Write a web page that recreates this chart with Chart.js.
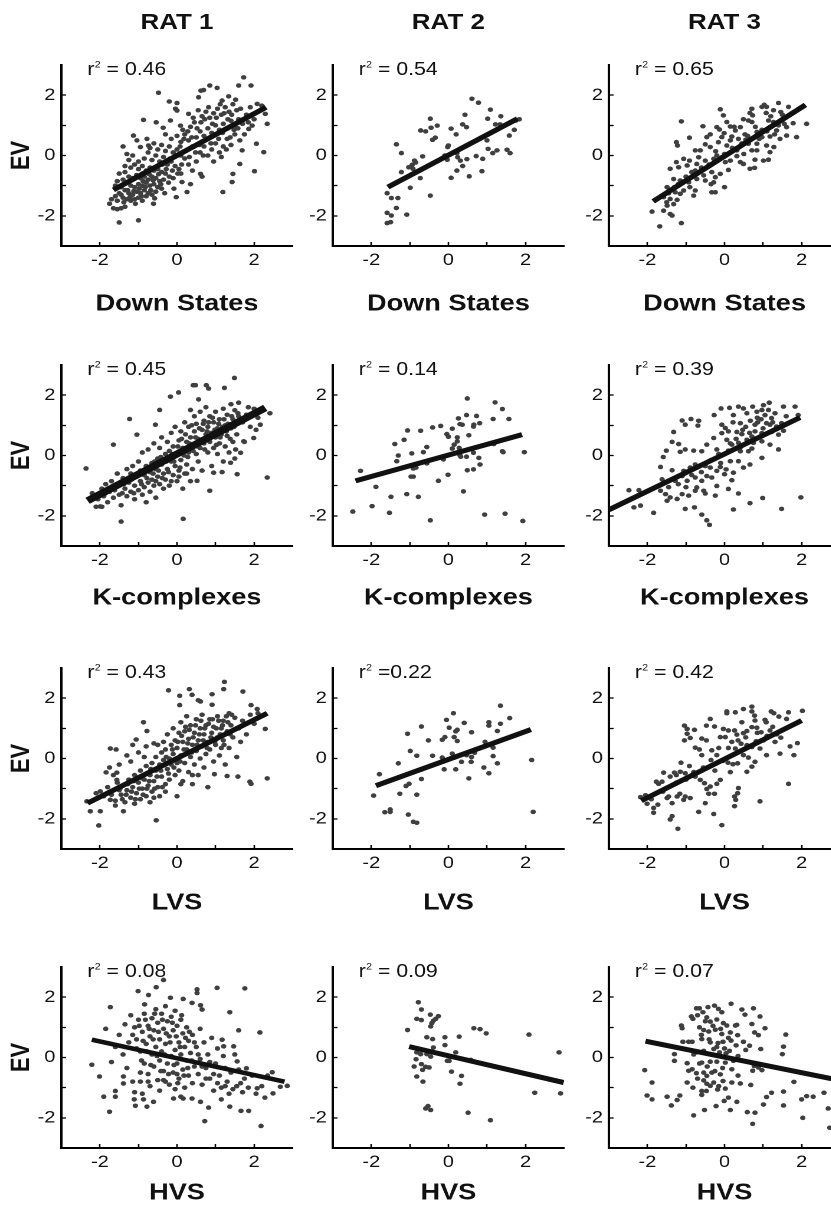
<!DOCTYPE html>
<html><head><meta charset="utf-8">
<script src="https://cdn.jsdelivr.net/npm/chart.js@4.4.0/dist/chart.umd.min.js"></script>
<style>
html,body{margin:0;padding:0;background:#fff;overflow:hidden;width:831px;height:1212px;}
#fig{position:absolute;left:0;top:0;width:705px;height:1212px;transform:scaleX(1.18);transform-origin:0 0;}
.panel{position:absolute;}
.rat{position:absolute;top:8px;width:200px;margin-left:-100px;text-align:center;font:bold 22px "Liberation Sans",Arial,sans-serif;color:#111;line-height:28px;}
</style></head><body><div id="fig"></div>
<script>
const rats = ['RAT 1','RAT 2','RAT 3'];
const measures = ['Down States','K-complexes','LVS','HVS'];
const yTitle = 'EV';
const axisMin = -3, axisMax = 3;
const tickLabels = ['-2','0','2'];
const r2Suffix = [' = 0.46',' = 0.54',' = 0.65',' = 0.45',' = 0.14',' = 0.39',' = 0.43',' =0.22',' = 0.42',' = 0.08',' = 0.09',' = 0.07'];

const rat1_down = [[-1.75,-1.60],[-1.65,-1.75],[-1.55,-1.78],[-1.45,-1.75],[-1.35,-1.70],[-1.50,-2.22],[-1.00,-2.15],
[-1.60,-1.35],[-1.50,-1.25],[-1.40,-1.40],[-1.30,-1.45],[-1.20,-1.50],[-1.10,-1.45],[-1.00,-1.40],[-0.90,-1.50],[-0.80,-1.35],
[-1.45,-1.05],[-1.35,-1.15],[-1.25,-1.25],[-1.15,-1.30],[-1.05,-1.20],[-0.95,-1.25],[-0.85,-1.15],[-0.75,-1.25],[-0.65,-1.30],[-0.55,-1.20],
[-1.40,-0.80],[-1.30,-0.90],[-1.20,-1.00],[-1.10,-1.05],[-1.00,-0.95],[-0.90,-1.00],[-0.80,-0.90],[-0.70,-1.00],[-0.60,-0.95],[-0.50,-1.05],[-0.40,-1.10],
[-1.50,-0.60],[-1.35,-0.55],[-1.25,-0.70],[-1.15,-0.75],[-1.05,-0.65],[-0.95,-0.75],[-0.85,-0.70],[-0.75,-0.80],[-0.65,-0.70],[-0.55,-0.75],[-0.45,-0.85],[-0.35,-0.80],
[-1.20,-0.40],[-1.10,-0.30],[-1.00,-0.45],[-0.90,-0.35],[-0.80,-0.50],[-0.70,-0.40],[-0.60,-0.50],[-0.50,-0.45],[-0.40,-0.55],[-0.30,-0.60],[-0.20,-0.70],[-0.10,-0.75],
[-1.40,0.30],[-1.30,0.05],[-1.15,0.00],[-0.95,0.28],[-0.85,-0.10],[-0.75,0.10],[-0.65,-0.15],[-0.55,0.00],[-0.45,-0.20],[-0.35,-0.05],[-0.25,-0.30],[-0.15,-0.20],[-0.05,-0.35],[0.05,-0.45],
[-1.13,0.66],[-1.04,0.50],[-0.78,0.55],[-0.74,0.33],[-0.60,0.40],[-0.50,0.20],[-0.40,0.35],[-0.30,0.15],[-0.20,0.30],[-0.10,0.10],[0.00,0.20],[0.10,0.00],[0.20,-0.10],
[-0.87,1.18],[-0.54,1.10],[-0.36,0.92],[-0.17,1.16],[0.09,0.99],[-0.48,2.08],[-0.20,1.79],[0.00,1.74],[-0.04,1.55],[0.00,1.49],[0.30,1.38],
[-0.30,0.70],[-0.15,0.55],[0.00,0.65],[0.10,0.45],[0.20,0.70],[0.30,0.50],[0.40,0.30],[0.50,0.60],[0.15,0.85],[0.35,0.95],[0.45,1.10],
[0.60,0.80],[0.70,0.65],[0.80,0.90],[0.90,0.75],[1.00,1.00],[1.10,0.85],[1.20,1.05],[1.30,0.90],[1.40,1.15],[1.50,1.00],[1.60,1.20],[1.70,1.05],
[0.55,1.50],[0.65,1.30],[0.75,1.45],[0.85,1.25],[0.95,1.40],[1.05,1.55],[1.15,1.35],[1.25,1.60],[1.35,1.45],[1.45,1.70],[1.55,1.50],
[0.56,1.93],[0.62,2.15],[0.69,2.17],[0.85,2.32],[1.04,2.24],[1.34,1.96],[1.17,1.82],[1.60,2.32],[1.73,2.59],[1.92,2.32],[2.08,1.71],[2.29,1.38],[2.34,1.05],
[0.30,-0.30],[0.40,-0.50],[0.50,-0.20],[0.60,0.10],[0.70,0.30],[0.80,0.00],[0.90,0.20],[1.00,0.40],[1.10,0.10],[1.20,0.30],[1.30,0.55],[1.40,0.35],
[0.61,-0.61],[0.65,-0.70],[0.13,-0.88],[0.26,-1.21],[-0.02,-1.38],[-0.61,-1.60],[0.35,-0.95],[0.10,-0.60],
[1.86,0.88],[1.95,0.99],[1.63,0.50],[1.69,0.17],[2.06,0.39],[2.25,0.11],[1.63,-0.28],[1.45,-0.61],[2.01,-0.52],[1.43,-0.88],[1.19,-1.21],
[1.80,1.35],[1.90,1.60],[2.00,1.20],[2.20,1.65],[1.75,0.70],[1.50,0.70],[1.15,-0.05],[0.95,-0.20],
[-1.70,-1.45],[-1.55,-1.50],[-1.45,-1.30],[-1.38,-1.55],[-1.28,-1.15],[-1.22,-1.38],[-1.12,-1.18],[-1.08,-1.60],[-0.98,-1.10],[-0.92,-1.35],[-0.88,-0.85],[-0.82,-1.05],[-0.72,-0.62],[-0.68,-1.15],[-0.62,-0.82],[-0.58,-1.42],[-0.48,-0.62],[-0.42,-0.95],[-0.38,-0.30],[-0.32,-1.25],[-0.28,-0.45],[-0.22,-0.90],[-0.18,-0.10],[-0.12,-0.50],[-0.08,-1.10],[0.02,-0.60],[0.08,0.30],[0.12,-0.30],[0.18,0.55],[0.22,0.15],[0.28,0.80],[0.32,-0.05],[0.38,0.60],[0.42,1.25],[0.48,0.10],[0.52,0.90],[0.58,0.35],[0.62,1.10],[0.68,0.00],[0.72,1.20],[0.78,0.55],[0.82,1.60],[0.88,0.40],[0.92,1.05],[0.98,0.70],[1.02,1.25],[1.08,0.55],[1.12,1.70],[1.18,0.75],[1.22,1.40],[1.28,0.20],[1.32,1.20],[1.38,0.60],[1.42,1.35],[1.48,0.85],[1.52,1.85],[1.58,0.90],[1.65,1.55],[1.85,1.10],[-1.00,-0.20],[-1.25,-0.15],[-0.70,0.25],[-0.90,-0.60],[-1.35,-0.35],[-1.55,-0.85],[-1.60,-1.00]];

const rat2_down = [[0.61,1.88],[0.78,1.75],[1.09,1.52],[0.43,1.35],[-0.47,1.22],[1.36,1.30],[1.02,1.22],[1.84,1.20],[1.75,1.16],
[-0.29,0.99],[-0.45,0.92],[0.37,1.03],[0.47,0.94],[1.22,1.03],[1.34,1.03],[1.71,0.85],
[-0.72,0.83],[-0.59,0.80],[0.07,0.89],[-0.34,0.59],[-0.41,0.52],[0.20,0.70],[1.00,0.50],[1.58,0.66],
[-1.35,0.37],[-1.22,0.08],[-0.02,0.28],[0.00,0.33],[1.03,0.22],[1.26,0.17],[1.15,0.08],[1.52,0.19],[1.60,0.08],
[-0.67,-0.03],[0.22,0.08],[0.24,-0.06],[-0.09,0.00],[-0.03,-0.14],[0.72,-0.02],[0.89,-0.11],
[-0.88,-0.17],[-0.85,-0.23],[-0.94,-0.31],[0.31,-0.17],[0.48,-0.12],[0.37,-0.35],[0.22,-0.50],[0.87,-0.52],
[-1.22,-0.55],[-0.73,-0.75],[0.07,-0.74],[0.54,-0.69],[-0.99,-1.07],[-0.47,-1.33],
[-1.59,-1.25],[-1.48,-1.41],[-1.31,-1.41],[-1.35,-1.74],[-1.59,-1.90],[-1.48,-1.99],[-1.08,-1.96],[-1.59,-2.24],[-1.50,-2.21],[-0.92,-0.44],[-1.03,-0.39]];

const rat3_down = [[1.40,1.74],[1.03,1.68],[0.97,1.61],[1.09,1.61],[1.66,1.61],[0.71,1.55],[-0.11,1.53],[1.27,1.50],[1.46,1.44],[1.08,1.41],[0.66,1.41],
[-0.03,1.33],[0.49,1.20],[0.73,1.33],[0.71,1.11],[-1.12,1.13],[1.78,1.07],[2.13,1.05],
[0.06,1.11],[0.15,0.96],[-0.20,0.94],[-0.13,0.86],[-0.56,0.97],[0.28,0.83],[0.41,0.94],
[-0.37,0.70],[-0.01,0.74],[0.19,0.63],[0.36,0.55],[0.53,0.70],[0.84,0.78],[0.97,0.61],[1.18,0.63],[1.44,0.55],[1.61,0.66],[1.87,0.61],
[-0.91,0.59],[-1.25,0.44],[-1.22,0.33],[-0.50,0.37],[-0.37,0.28],[-0.16,0.44],[0.06,0.33],[0.32,0.17],[0.62,0.39],[0.84,0.17],[1.09,0.33],
[-1.06,-0.11],[-0.91,-0.17],[-0.67,-0.06],[-0.50,-0.17],[-0.28,-0.11],[-0.07,-0.06],[0.15,-0.17],[0.41,-0.22],[0.79,-0.14],[1.01,-0.17],[1.14,-0.14],
[-1.25,-0.22],[-1.41,-0.44],[-1.19,-0.39],[-0.97,-0.33],[-0.76,-0.50],[-0.54,-0.66],[-0.33,-0.55],[-0.11,-0.61],[0.10,-0.48],[0.66,-0.44],[0.78,-0.41],
[-1.32,-0.78],[-1.15,-0.83],[-0.93,-0.89],[-0.72,-0.78],[-0.50,-0.83],[-0.28,-0.89],[-0.24,-0.72],[0.00,-1.05],
[-1.49,-1.05],[-1.41,-1.16],[-1.28,-1.22],[-1.15,-1.27],[-1.06,-1.16],[-0.76,-1.16],[-0.80,-1.33],[-0.33,-1.22],[-0.24,-1.22],
[-1.58,-1.38],[-1.41,-1.44],[-1.32,-1.61],[-1.49,-1.66],[-1.58,-1.83],[-1.41,-1.94],[-1.36,-1.99],[-1.88,-1.86],[-1.68,-2.35],[-1.12,-2.24],[-1.23,-1.47],
[1.14,1.16],[1.27,1.11],[1.40,1.00],[1.53,1.22],[1.61,0.94],[1.35,0.83],[1.18,0.94],[0.97,0.85],[0.62,1.16],[0.55,0.52],[0.84,0.39],
[1.18,0.11],[1.28,0.28],[0.15,0.50],[-0.07,0.61],[-0.23,0.14],[-0.63,0.17],[-0.76,0.17],[-0.46,0.61],[-0.72,-0.28],[0.02,-0.22],[0.49,-0.28],[0.32,-0.02],[0.71,0.17],
[-1.45,-1.25],[-1.30,-1.05],[-1.20,-0.95],[-1.00,-0.70],[-0.85,-0.55],[-0.60,-0.40],[-0.40,-0.30],[-0.20,0.00],[0.00,0.05],[0.20,0.25],[0.45,0.40],[0.60,0.65],[0.80,0.95],[0.90,0.55],[1.10,0.80],[1.20,1.30],[1.30,0.70],[1.50,1.35],[1.55,1.05],[0.25,0.95],[-0.35,-0.95],[-0.90,-1.05],[-1.50,-1.55],[0.50,0.05]];

const rat1_kc = [[-2.36,-0.43],[-1.65,0.36],[-1.23,1.21],[-1.04,0.69],[-0.56,1.02],[-0.45,1.51],[-0.17,1.95],[0.04,2.09],[0.42,2.33],[0.48,2.33],[0.76,2.33],[0.82,2.22],[1.23,2.24],[1.49,2.57],[0.56,1.86],[0.35,1.51],
[-1.99,-1.69],[-1.45,-2.19],[0.16,-2.10],[2.34,-0.73],[2.41,1.40],[2.16,1.02],[1.99,0.58],
[1.73,0.47],[1.65,0.09],[1.39,-0.24],[1.56,-0.62],[1.17,-0.55],[0.95,-0.57],[0.85,-1.17],[0.52,-0.84],
[-2.20,-1.25],[-2.10,-1.70],[-2.05,-1.45],[-1.95,-1.10],[-1.90,-1.35],[-1.85,-0.95],[-1.80,-1.55],[-1.75,-1.20],[-1.70,-0.85],[-1.65,-1.40],[-1.60,-1.05],[-1.55,-0.60],[-1.50,-1.30],[-1.50,-0.95],[-1.45,-1.65],[-1.40,-0.75],
[-1.35,-1.10],[-1.30,-0.45],[-1.30,-1.35],[-1.25,-0.90],[-1.20,-0.60],[-1.20,-1.20],[-1.15,-0.35],[-1.10,-1.00],[-1.10,-1.45],[-1.05,-0.70],[-1.00,-0.20],[-1.00,-1.15],[-0.95,-0.85],[-0.95,-0.50],[-0.90,-1.30],[-0.90,0.10],[-0.85,-0.65],[-0.85,-1.05],[-0.80,-0.35],[-0.80,-1.55],
[-0.75,-0.90],[-0.75,0.20],[-0.70,-0.55],[-0.70,-1.20],[-0.65,-0.25],[-0.65,-0.80],[-0.60,0.40],[-0.60,-1.00],[-0.55,-0.45],[-0.55,-1.40],[-0.50,-0.10],[-0.50,-0.70],[-0.45,0.25],[-0.45,-0.95],[-0.40,-0.30],[-0.40,0.60],[-0.35,-0.60],[-0.35,-1.10],[-0.30,0.05],[-0.30,-0.80],[-0.25,0.45],[-0.25,-0.45],[-0.20,-1.00],[-0.20,0.15],
[-0.15,-0.20],[-0.15,0.75],[-0.10,-0.65],[-0.10,0.30],[-0.05,-0.35],[-0.05,0.95],[0.00,0.05],[0.00,-0.85],[0.05,0.50],[0.05,-0.50],[0.10,-0.15],[0.10,0.80],[0.15,0.25],[0.15,-1.10],[0.20,-0.60],[0.20,1.10],[0.25,0.45],[0.25,-0.30],[0.30,0.10],[0.30,0.95],[0.35,-0.85],[0.35,0.60],[0.40,0.30],[0.40,-0.45],
[0.45,1.30],[0.45,0.80],[0.50,0.05],[0.50,1.05],[0.55,0.55],[0.55,-0.20],[0.60,1.45],[0.60,0.25],[0.65,0.85],[0.65,-0.50],[0.70,1.15],[0.70,0.40],[0.75,0.70],[0.75,1.60],[0.80,0.10],[0.80,0.95],[0.85,1.30],[0.85,0.45],[0.90,0.75],[0.90,-0.35],[0.95,1.10],[0.95,0.25],[1.00,1.45],[1.00,0.60],
[1.05,0.90],[1.05,0.05],[1.10,1.20],[1.10,0.40],[1.15,0.70],[1.20,1.55],[1.20,-0.20],[1.25,1.00],[1.25,0.30],[1.30,1.35],[1.30,0.65],[1.35,0.10],[1.40,1.70],[1.40,0.90],[1.45,1.20],[1.45,0.45],[1.50,1.50],[1.50,-0.10],[1.55,1.05],[1.55,0.70],[1.60,1.75],[1.60,1.30],
[1.70,1.10],[1.75,0.45],[1.80,1.35],[1.90,0.95],[2.00,1.55],[2.10,1.25],[2.15,1.50],[1.85,1.60],[2.05,0.85],
[-1.85,-1.25],[-1.62,-1.15],[-1.42,-1.25],[-1.38,-0.95],[-1.18,-0.80],[-1.12,-1.25],[-0.98,-0.60],[-0.92,-0.95],[-0.78,-0.75],[-0.72,-0.40],[-0.62,-0.60],[-0.58,-0.20],[-0.48,-0.50],[-0.42,-0.05],[-0.38,-0.75],[-0.28,-0.20],[-0.22,-0.55],[-0.12,0.05],[-0.08,-0.20],[0.02,0.30],[0.08,-0.40],[0.12,0.55],[0.18,0.00],[0.22,0.70],[0.28,-0.05],[0.32,0.40],[0.38,1.00],[0.42,0.15],[0.48,0.60],[0.52,0.30],[0.58,0.90],[0.62,0.50],[0.68,1.05],[0.72,0.20],[0.78,0.80],[0.82,1.10],[0.88,0.60],[0.92,1.25],[0.98,0.85],[1.02,0.35],[1.08,1.05],[1.12,0.60],[1.18,0.95],[1.22,1.20],[1.28,0.80],[1.32,1.05],[1.38,0.55],[1.42,1.30],[1.48,0.95],[1.52,0.20],[1.58,1.40],[-1.95,-1.70],[-0.55,-0.85],[-0.15,-0.85],[0.05,-0.70],[0.25,-0.60]];

const rat2_kc = [[0.49,1.89],[1.21,1.76],[1.40,1.54],[1.57,1.21],[1.16,1.21],[0.47,1.34],[0.26,1.23],[0.73,1.31],[0.30,1.04],[0.36,1.02],[0.66,1.02],[0.81,1.07],[0.65,0.96],
[-0.20,0.98],[-0.41,0.93],[-0.72,0.82],[-1.06,0.83],[-0.04,0.71],[0.00,0.62],[0.23,0.60],[0.23,0.47],[0.10,0.89],[0.53,0.67],[-1.15,0.52],[-1.39,0.38],[-0.56,0.28],[1.18,0.38],[0.28,0.25],
[-1.30,0.00],[-0.95,0.07],[-0.65,0.11],[0.10,0.23],[0.30,0.01],[0.32,-0.04],[0.47,-0.04],[0.65,0.09],[1.42,0.11],[1.97,0.11],
[-1.34,-0.19],[-0.56,-0.26],[-0.13,-0.13],[-0.91,-0.43],[-0.84,-0.40],[0.49,-0.49],[0.65,-0.46],[0.79,-0.08],[0.82,-0.30],
[-2.28,-0.51],[-0.97,-0.70],[-0.91,-0.70],[-0.01,-0.64],[-0.26,-0.84],[0.39,-1.19],[-1.88,-1.04],[-1.08,-1.28],[-1.49,-1.37],[-0.78,-1.37],[-1.98,-1.68],[-2.48,-1.86],[-1.53,-1.90],[-0.47,-2.15],[0.94,-1.96],[1.47,-1.93],[1.93,-2.17],[1.40,0.14],[0.15,0.36]];

const rat3_kc = [[1.16,1.75],[1.01,1.67],[0.73,1.62],[0.97,1.51],[1.14,1.51],[1.53,1.62],[1.83,1.62],[0.36,1.62],[0.13,1.58],[-0.09,1.56],[0.49,1.56],
[0.58,1.40],[0.84,1.45],[1.31,1.40],[1.91,1.34],[-0.27,1.34],[0.23,1.34],[1.05,1.34],
[-1.10,1.16],[-0.87,1.21],[-0.67,1.15],[-0.69,0.99],[-1.02,1.02],[-0.07,1.02],[0.02,0.91],[0.22,1.10],[0.41,1.07],[0.67,1.15],[0.86,1.10],[1.09,1.07],[1.18,1.02],[1.35,0.96],[1.48,1.07],
[-1.32,0.78],[-0.07,0.74],[0.10,0.80],[0.32,0.78],[0.47,0.85],[0.79,0.80],[0.97,0.74],[1.22,0.78],[1.40,0.69],[1.53,0.82],
[-1.36,0.45],[-1.19,0.38],[-0.46,0.36],[-0.28,0.58],[0.06,0.52],[0.19,0.36],[0.36,0.42],[0.58,0.52],[0.75,0.42],[0.97,0.47],[1.18,0.36],[1.40,0.20],
[-1.59,-0.05],[-1.15,0.12],[-0.80,0.16],[-0.59,0.14],[-0.20,0.20],[-0.03,0.03],[0.10,0.16],[0.41,0.14],[0.62,0.14],[0.71,0.23],
[-1.66,-0.38],[-1.36,-0.49],[-1.06,-0.51],[-0.89,-0.40],[-0.76,-0.30],[-0.50,-0.35],[-0.37,-0.40],[-0.11,-0.38],[0.15,-0.19],[0.36,-0.19],[0.49,-0.40],[0.66,-0.30],[0.97,-0.08],[0.04,-0.46],[0.23,-0.57],
[-1.62,-0.79],[-1.28,-0.84],[-1.10,-0.68],[-0.97,-0.84],[-0.76,-0.73],[-0.59,-0.84],[-0.46,-0.68],[-0.33,-0.73],[-0.20,-0.51],[0.00,-0.62],[0.19,-0.82],
[-1.66,-1.17],[-1.53,-1.28],[-1.41,-1.39],[-1.49,-1.50],[-1.23,-1.44],[-1.10,-1.28],[-0.93,-1.33],[-0.76,-1.17],[-0.54,-1.17],[-0.50,-1.26],[-0.24,-1.33],[0.10,-1.11],[0.36,-1.26],
[-2.48,-1.15],[-2.22,-1.15],[-2.18,-1.66],[-2.35,-1.72],[-1.84,-1.90],[-1.02,-1.77],[-0.78,-1.72],[-0.59,-1.96],[-0.46,-2.15],[-0.39,-2.30],[0.23,-1.79],[0.66,-1.58],[0.99,-1.41],[1.48,-1.77],[1.98,-1.39],
[-1.51,0.16],[-1.02,0.20],[-0.72,-1.06],[-0.20,-1.01],[0.79,1.02],[1.22,1.24],[0.45,0.71],[0.71,0.63],
[0.85,1.25],[1.00,0.90],[0.55,0.95],[0.30,0.55],[0.15,0.40],[-0.15,0.05],[-0.35,-0.15],[-0.60,-0.55],[-0.85,-0.65],[-1.20,-0.95],[-1.45,-1.05],[1.25,1.10],[0.95,1.20],[0.40,0.25],[-0.10,-0.25],[-1.00,-1.05],[1.60,1.30],[0.65,0.75]];

const rat1_lvs = [[1.23,2.54],[1.21,2.30],[1.71,2.22],[-0.22,2.26],[0.32,2.30],[0.07,2.08],[0.39,2.11],[0.55,1.93],[0.61,1.89],[0.91,1.78],[0.91,2.13],[0.07,1.77],[1.92,1.77],[2.08,1.64],[2.29,0.98],[2.34,-0.66],[1.89,-0.77],[1.92,-0.84],[1.58,-0.60],[1.30,-0.58],[0.97,-0.52],
[-0.87,1.20],[-0.78,0.91],[-1.06,0.63],[-1.73,0.33],[-1.58,0.30],[-1.84,-0.46],[-1.56,-0.47],[-1.56,-0.71],[-1.73,-1.37],[-2.25,-1.75],[-1.99,-1.75],[-2.03,-2.22],[-0.54,-2.05],[-2.34,-1.42],[-1.99,-1.09],[-1.39,-1.75],[-1.60,-1.56],
[-1.45,-1.20],[-1.40,-0.90],[-1.35,-1.45],[-1.30,-1.05],[-1.25,-0.70],[-1.20,-1.30],[-1.15,-0.95],[-1.10,-1.50],[-1.10,-0.55],[-1.05,-1.15],[-1.00,-0.80],[-0.95,-1.35],[-0.95,-0.40],[-0.90,-1.00],[-0.85,-0.70],[-0.80,-1.25],[-0.80,-0.25],[-0.75,-0.90],[-0.70,-0.55],[-0.70,-1.45],[-0.65,-0.15],[-0.65,-1.10],[-0.60,-0.75],[-0.55,0.05],[-0.55,-0.40],[-0.50,-0.95],[-0.50,0.45],[-0.45,-0.20],[-0.45,-1.25],[-0.40,0.20],[-0.40,-0.60],[-0.35,0.55],[-0.35,-0.05],[-0.30,-0.85],[-0.30,0.30],[-0.25,-0.35],[-0.25,0.80],[-0.20,0.00],[-0.20,-0.70],[-0.15,0.45],[-0.15,-0.20],[-0.10,1.00],[-0.10,0.15],[-0.05,-0.55],[-0.05,0.60],[0.00,-0.15],[0.00,0.35],[0.00,-1.25],[0.05,0.85],[0.05,-0.40],[0.10,0.10],[0.10,1.20],[0.15,0.55],[0.15,-0.75],[0.20,-0.15],[0.20,0.90],[0.25,0.30],[0.25,1.40],[0.30,-0.45],[0.30,0.65],[0.35,0.05],[0.35,1.10],[0.40,0.45],[0.40,-0.85],[0.45,0.85],[0.45,-0.20],[0.50,1.30],[0.50,0.25],[0.55,0.60],[0.55,-0.55],[0.60,1.00],[0.60,0.00],[0.65,0.40],[0.65,1.45],[0.70,-0.30],[0.70,0.80],[0.75,1.10],[0.75,0.15],[0.80,0.55],[0.80,-0.95],[0.85,1.30],[0.85,0.30],[0.90,0.85],[0.95,-0.10],[0.95,1.05],[1.00,0.45],[1.05,1.40],[1.05,0.70],[1.10,0.10],[1.15,1.00],[1.15,0.35],[1.20,1.25],[1.20,0.60],[1.25,-0.20],[1.30,0.90],[1.35,1.50],[1.35,0.35],[1.40,1.10],[1.45,0.70],[1.50,1.35],[1.55,0.05],[1.60,1.00],[1.65,0.55],[1.70,1.25],[1.80,0.80],[1.90,1.45],[2.00,1.15],[2.10,1.50],
[-1.80,-0.95],[-1.70,-1.20],[-1.65,-0.55],[-1.60,-1.40],[-1.55,-0.80],[-1.50,-1.05],[-1.90,-1.25],[-2.10,-1.15],[-1.75,-0.30],[-1.50,-0.20],[-1.30,0.10],[-1.20,-0.10],[-1.00,0.20],[-0.80,0.40],[-0.60,0.50],[-0.85,0.05],[-1.15,0.45],
[-1.48,-1.00],[-1.42,-1.35],[-1.32,-1.20],[-1.28,-0.85],[-1.18,-1.10],[-1.12,-0.75],[-1.08,-1.35],[-0.98,-1.00],[-0.92,-0.65],[-0.88,-1.20],[-0.78,-1.00],[-0.72,-0.75],[-0.68,-0.35],[-0.58,-1.00],[-0.52,-0.60],[-0.42,-0.40],[-0.38,-0.95],[-0.28,0.05],[-0.22,-0.50],[-0.12,0.30],[-0.08,-0.30],[0.02,0.55],[0.08,-0.10],[0.12,0.75],[0.18,0.30],[0.22,1.05],[0.28,0.50],[0.32,0.95],[0.38,0.20],[0.42,0.70],[0.48,1.10],[0.52,0.45],[0.58,0.80],[0.62,1.25],[0.68,0.60],[0.72,1.00],[0.78,0.35],[0.82,1.15],[0.88,0.70],[0.92,1.30],[0.98,0.55],[1.02,1.00],[1.08,1.25],[1.12,0.80],[1.18,1.10],[1.22,0.45],[1.28,1.40],[1.32,1.20],[1.38,0.80],[1.42,1.45],[-0.60,-1.30],[-0.30,-1.10],[0.10,-0.85],[0.40,-0.55]];

const rat2_lvs = [[1.35,1.75],[0.13,1.50],[1.59,1.34],[-0.05,1.28],[1.35,1.15],[0.41,1.18],[1.05,1.20],[1.05,1.09],[-0.70,1.06],[0.02,1.02],[0.23,0.95],[0.19,0.90],[0.60,0.87],[1.27,0.91],[-1.06,0.82],[0.15,0.71],[-0.09,0.71],[-0.16,0.62],[-0.52,0.60],[0.23,0.58],[0.95,0.55],[1.16,0.36],
[-0.99,0.25],[-0.41,0.09],[-0.82,0.09],[-0.16,0.03],[0.10,0.16],[0.15,0.03],[0.30,0.11],[0.47,0.11],[0.60,0.05],[0.68,0.19],[1.16,0.08],[-1.30,-0.16],[0.34,-0.11],[0.59,-0.11],[1.27,-0.16],[2.16,-0.05],
[-1.79,-0.52],[-0.11,-0.36],[0.19,-0.36],[0.92,-0.30],[1.05,-0.49],[-0.70,-0.68],[0.53,-0.66],
[-1.10,-0.91],[-1.02,-0.84],[-1.26,-1.17],[-0.82,-1.20],[-1.94,-1.23],
[-1.51,-1.69],[-1.65,-1.78],[-1.51,-1.77],[-1.04,-1.86],[-0.91,-2.10],[-0.82,-2.13],[2.20,-1.77]];

const rat3_lvs = [[0.71,1.72],[0.49,1.64],[0.71,1.56],[0.28,1.53],[0.06,1.56],[0.06,1.50],[1.21,1.56],[1.28,1.50],[1.41,1.39],[1.61,1.31],[1.66,1.53],[2.02,1.58],[0.78,1.42],[0.79,1.26],[1.05,1.28],[1.08,1.20],[-0.37,1.31],[-0.47,1.09],[-0.26,1.06],[-1.04,1.09],[-0.97,0.98],[-0.78,0.95],
[-0.03,0.98],[0.10,0.93],[0.26,0.93],[0.32,0.79],[0.49,0.84],[0.58,0.91],[0.71,1.04],[0.84,1.02],[0.95,0.87],[1.18,0.93],[1.35,0.80],[1.46,0.69],[1.31,0.55],[1.01,0.60],[0.82,0.57],
[-0.97,0.82],[-1.04,0.60],[-0.89,0.68],[-0.59,0.66],[-0.47,0.60],[-0.11,0.71],[0.02,0.71],[0.19,0.55],[0.28,0.33],[0.43,0.49],[0.58,0.44],[0.71,0.38],[0.92,0.33],[1.70,0.40],[1.89,0.51],[1.80,0.11],[1.44,0.16],
[-0.76,0.36],[-0.59,0.11],[-0.33,0.27],[-0.20,0.11],[-0.04,-0.08],[0.09,-0.14],[0.22,-0.19],[0.34,-0.16],[0.49,0.11],[0.62,0.03],[0.71,-0.27],[0.58,-0.44],[0.79,-0.11],[1.09,0.11],[1.66,-0.84],
[-1.58,-0.47],[-1.71,-0.84],[-1.62,-0.77],[-1.41,-0.60],[-1.25,-0.55],[-1.15,-0.44],[-1.02,-0.49],[-0.91,-0.25],[-0.76,-0.60],[-0.63,-0.71],[-0.52,-0.82],[-0.37,-0.93],[-0.20,-0.84],[-0.11,-0.71],[-0.46,-1.01],[-0.41,-1.17],[-0.26,-1.17],[0.36,-0.98],[0.34,-1.15],[0.26,-1.26],[0.29,-1.37],[0.26,-1.58],[0.92,-1.42],
[-2.18,-1.28],[-2.05,-1.22],[-2.01,-1.50],[-1.84,-1.64],[-1.84,-1.80],[-1.73,-1.53],[-1.49,-1.31],[-1.45,-1.26],[-1.36,-1.48],[-1.36,-1.91],[-1.41,-2.02],[-1.21,-2.33],[-1.23,-1.26],[-1.16,-1.17],[-1.06,-1.37],[-1.02,-1.26],[-0.89,-1.31],[-0.67,-1.77],[-0.28,-1.84],[-0.07,-2.21],[-0.50,-1.48],[-1.77,-0.77],
[-1.13,-0.14],[-1.30,-0.47],
[-1.25,-0.80],[-1.00,-0.70],[-0.80,-0.45],[-0.55,-0.30],[-0.35,-0.05],[-0.15,0.35],[0.10,0.35],[0.35,0.60],[0.55,0.70],[0.85,0.85],[1.10,0.75],[1.25,1.05],[0.45,1.20],[-0.65,0.30],[-1.60,-1.10],[-1.90,-1.35],[0.15,-0.45],[-0.25,-0.40]];

const rat1_hvs = [[-0.35,2.57],[-0.54,2.33],[0.52,2.26],[0.52,2.14],[1.04,2.31],[1.76,2.29],[-1.01,2.20],[-0.74,2.07],[-0.17,1.98],[0.16,1.94],[0.39,1.81],[-0.84,1.76],[-1.73,1.67],[0.61,1.73],[0.65,1.59],[1.37,1.50],
[-2.21,-0.24],[-2.01,-0.63],[-1.90,-1.30],[-1.75,-1.80],[-1.60,-1.11],[-1.60,-1.30],[-1.39,-0.63],[-1.39,-0.86],[-1.11,-1.39],[-1.08,-1.60],[-0.87,-1.39],[-0.78,-1.63],[-0.61,-1.47],[-0.09,-1.36],[0.16,-1.36],[0.39,-1.36],[0.61,-1.47],[0.72,-2.11],[0.82,-1.66],[1.15,-1.39],[1.37,-1.63],[1.66,-1.77],[1.86,-1.77],[2.18,-2.27],[2.28,-1.33],[2.08,-1.02],[2.47,-0.49],[2.49,-1.19],[2.68,-0.97],[2.86,-0.94],[2.15,0.83],[1.60,0.90],[1.17,0.59],[1.21,0.37],[1.47,0.37],[1.56,-0.13],[1.80,-0.36],
[-1.20,1.40],[-1.10,1.00],[-1.05,0.60],[-1.00,1.25],[-0.95,0.20],[-0.90,0.85],[-0.85,-0.20],[-0.85,1.45],[-0.80,0.45],[-0.75,1.05],[-0.75,-0.55],[-0.70,0.70],[-0.65,0.10],[-0.65,1.30],[-0.60,-0.30],[-0.60,0.90],[-0.55,1.60],[-0.55,0.35],[-0.50,-0.75],[-0.50,1.15],[-0.45,0.60],[-0.45,-0.10],[-0.40,1.45],[-0.40,0.20],[-0.35,-0.45],[-0.35,0.95],[-0.30,1.70],[-0.30,0.45],[-0.25,-0.20],[-0.25,1.20],[-0.20,-0.90],[-0.20,0.70],[-0.15,0.05],[-0.15,1.35],[-0.10,-0.50],[-0.10,0.90],[-0.05,0.25],[-0.05,1.55],[0.00,-0.20],[0.00,1.05],[0.05,-0.70],[0.05,0.50],[0.10,1.25],[0.10,0.10],[0.15,-0.40],[0.15,0.80],[0.20,-1.00],[0.20,0.35],[0.25,-0.10],[0.25,1.00],[0.30,-0.60],[0.30,0.55],[0.35,0.15],[0.40,-0.85],[0.40,0.75],[0.45,-0.30],[0.50,0.35],[0.55,-0.55],[0.60,0.95],[0.60,-0.05],[0.65,-0.90],[0.70,0.50],[0.75,-0.35],[0.80,0.10],[0.85,-0.70],[0.90,0.65],[0.95,-1.10],[1.00,-0.20],[1.05,0.30],[1.10,-0.60],[1.15,-1.00],[1.20,0.05],[1.25,-0.35],[1.30,-0.80],[1.35,-1.20],[1.40,-0.50],[1.50,0.10],[1.55,-0.95],[1.60,-0.40],[1.70,-1.15],[1.75,-0.70],[1.85,-1.00],[1.95,-0.60],[2.05,-1.20],[2.20,-0.95],[2.35,-0.60],
[-1.50,0.75],[-1.40,0.10],[-1.35,1.10],[-1.30,-0.35],[-1.25,0.50],[-1.60,0.35],[-1.70,-0.15],[-1.85,0.95],[-1.15,-0.80],[-1.10,-1.15],[-0.95,-0.50],[-0.90,-1.20],[-0.70,-0.95],[-0.45,-1.10],[-0.30,-0.80],[-0.05,-1.05],[0.10,-1.30],
[-1.15,0.75],[-1.05,0.30],[-0.98,1.05],[-0.92,-0.10],[-0.88,0.55],[-0.82,1.25],[-0.78,0.20],[-0.72,0.95],[-0.68,-0.25],[-0.62,0.60],[-0.58,1.45],[-0.52,0.05],[-0.48,0.85],[-0.42,-0.45],[-0.38,1.25],[-0.32,0.10],[-0.28,0.80],[-0.22,-0.55],[-0.18,0.50],[-0.12,1.15],[-0.08,-0.25],[-0.02,0.70],[0.02,-0.85],[0.08,0.35],[0.12,1.40],[0.18,-0.60],[0.22,0.65],[0.28,-0.35],[0.32,0.85],[0.38,-0.10],[0.45,0.50],[0.55,0.10],[0.65,-0.30],[0.75,-0.70],[0.85,-0.15],[0.95,-0.55],[1.05,-0.85],[1.25,-0.95],[1.45,-1.05],[1.65,-0.85],[-0.95,-0.80],[-0.75,-0.80],[-0.35,-0.75],[0.00,-0.55]];

const rat2_hvs = [[-0.78,1.83],[-0.70,1.59],[-0.82,1.28],[-0.70,1.24],[-0.47,1.42],[-0.26,1.37],[-0.33,1.28],[-0.39,1.22],[-0.43,1.14],[-0.46,1.03],[-1.06,0.91],[0.66,0.97],[0.82,0.94],[0.98,0.80],[2.09,0.76],[-0.56,0.67],[-0.41,0.61],[-0.09,0.67],[0.28,0.69],[-0.09,0.41],[-0.39,0.33],[-0.82,0.17],[-0.72,0.11],[-0.56,0.11],[0.19,0.17],[2.87,0.17],[-0.46,0.03],[-0.03,-0.11],[0.02,-0.11],[0.58,-0.08],[-0.84,-0.06],[-0.89,-0.30],[-0.70,-0.22],[-0.59,-0.31],[-0.67,-0.41],[0.08,-0.47],[0.34,-0.61],[-0.82,-0.63],[-0.66,-0.80],[0.30,-0.87],[2.24,-1.17],[2.91,-1.19],[-0.59,-1.69],[-0.53,-1.61],[-0.46,-1.74],[0.51,-1.83],[1.09,-2.08],[-0.50,-0.33]];

const rat3_hvs = [[0.17,1.78],[-0.26,1.72],[-0.43,1.67],[-0.73,1.63],[-0.65,1.63],[-0.56,1.50],[-0.16,1.61],[-0.07,1.50],[0.45,1.59],[0.75,1.63],[0.53,1.42],[0.92,1.36],[-0.86,1.36],[-0.82,1.28],[-0.46,1.33],[-0.37,1.19],[-0.20,1.26],[-0.03,1.14],[0.06,1.06],[0.28,1.06],[0.32,1.08],[0.71,1.11],[1.05,0.97],[-1.12,1.06],[-1.10,0.97],[-0.65,1.00],[-0.54,0.91],[-0.41,0.86],[-0.24,0.92],[-0.07,0.78],[0.15,0.83],[0.34,0.74],[0.78,0.83],[0.88,0.74],[1.59,0.76],[-1.08,0.52],[-0.93,0.52],[-0.84,0.52],[-0.59,0.61],[-0.37,0.50],[-0.17,0.48],[-0.04,0.52],[0.17,0.56],[0.49,0.52],[0.65,0.39],[0.94,0.28],[1.53,0.36],[-1.30,0.11],[-1.30,-0.11],[-0.72,0.17],[-0.54,0.22],[-0.28,0.28],[-0.13,0.17],[0.04,0.14],[0.13,0.22],[1.50,0.11],
[-0.97,-0.19],[-0.59,-0.17],[-0.37,-0.14],[-0.20,-0.14],[0.02,-0.17],[0.23,-0.11],[0.77,-0.28],[0.88,-0.33],[0.97,-0.42],[-2.07,-0.42],
[-0.93,-0.44],[-0.84,-0.39],[-0.73,-0.52],[-0.54,-0.50],[-0.46,-0.61],[-0.33,-0.50],[-0.11,-0.56],[0.19,-0.39],[-0.04,-0.78],[0.73,-0.44],
[-0.97,-0.83],[-0.82,-1.00],[-0.54,-0.76],[-0.46,-0.87],[-0.37,-0.94],[-0.28,-0.83],[0.19,-0.83],[0.41,-0.86],[0.68,-0.91],[1.80,-0.81],[-1.88,-0.83],
[-0.59,-1.11],[-0.59,-1.24],[-0.47,-1.11],[-0.18,-1.06],[0.02,-1.03],[-2.01,-1.26],[-1.88,-1.39],[-1.49,-1.30],[-1.16,-1.26],[-1.23,-1.41],[-1.38,-1.59],[1.09,-1.31],[1.22,-1.17],[1.53,-1.13],[2.13,-1.28],[2.30,-1.30],[2.58,-1.17],[2.00,-1.39],
[-0.01,-1.44],[0.10,-1.33],[0.32,-1.47],[1.01,-1.56],[1.53,-1.59],[2.69,-1.69],[-0.52,-1.74],[0.15,-1.74],[0.59,-1.81],[0.79,-1.83],[2.03,-2.00],[-0.22,-1.61],[-0.80,-1.92],[0.73,-2.20],[2.73,-2.33],
[-0.70,1.40],[-0.50,1.20],[-0.30,1.05],[-0.10,0.95],[0.10,0.65],[0.30,0.40],[-0.60,0.75],[-0.40,0.60],[-0.20,0.35],[0.00,0.30],[-0.80,0.10],[-0.65,-0.20],[-0.45,-0.30],[-0.25,-0.45],[-0.05,-0.35],[0.35,0.05],[0.55,0.25],[-0.70,-0.70],[-0.15,-0.95],[0.35,-0.60]];

const fit_rat1_down = [[-1.65,-1.14],[2.31,1.60]];
const fit_rat2_down = [[-1.57,-1.05],[1.79,1.22]];
const fit_rat3_down = [[-1.85,-1.52],[2.10,1.68]];
const fit_rat1_kc = [[-2.32,-1.50],[2.29,1.58]];
const fit_rat2_kc = [[-2.41,-0.84],[1.91,0.69]];
const fit_rat3_kc = [[-3.00,-1.80],[1.96,1.26]];
const fit_rat1_lvs = [[-2.32,-1.48],[2.34,1.50]];
const fit_rat2_lvs = [[-1.88,-0.90],[2.14,0.96]];
const fit_rat3_lvs = [[-2.16,-1.40],[2.00,1.26]];
const fit_rat1_hvs = [[-2.21,0.59],[2.79,-0.80]];
const fit_rat2_hvs = [[-1.02,0.36],[2.99,-0.83]];
const fit_rat3_hvs = [[-2.05,0.54],[3.00,-0.76]];

const points = [rat1_down,rat2_down,rat3_down,rat1_kc,rat2_kc,rat3_kc,rat1_lvs,rat2_lvs,rat3_lvs,rat1_hvs,rat2_hvs,rat3_hvs];
const fits = [fit_rat1_down,fit_rat2_down,fit_rat3_down,fit_rat1_kc,fit_rat2_kc,fit_rat3_kc,fit_rat1_lvs,fit_rat2_lvs,fit_rat3_lvs,fit_rat1_hvs,fit_rat2_hvs,fit_rat3_hvs];

// ---- layout / style (not data) ----
const FONT = '"Liberation Sans", Arial, Helvetica, sans-serif';
const colLeft = [2, 232, 466];
const rowTop = [40, 340, 643, 942];
const PADTOP = 25, YW = 50, XH = 75, AREA_W = 196, AREA_H = 181, PADR = 6;
const titlePadBottom = [3.2, 9.2, 7.2, 16.2];
const lineW = [5,5,5,7,5,5,5,5,5,4.5,5,5];

const fig = document.getElementById('fig');
rats.forEach((t,c)=>{
  const d=document.createElement('div'); d.className='rat'; d.textContent=t;
  d.style.left=(colLeft[c]+YW+AREA_W/2)+'px'; fig.appendChild(d);
});

const r2Plugin = {
  id:'r2label',
  afterDraw(chart, args, opts){
    const {ctx, chartArea} = chart;
    ctx.save();
    ctx.fillStyle='#111';
    ctx.textBaseline='alphabetic';
    ctx.textAlign='left';
    let x = chartArea.left + 22, y = chartArea.top + 10;
    ctx.font = '18px ' + FONT;
    ctx.fillText('r', x, y);
    x += ctx.measureText('r').width + 0.3;
    ctx.font = '9px ' + FONT;
    ctx.fillText('2', x, y - 7.5);
    x += ctx.measureText('2').width;
    ctx.font = '18px ' + FONT;
    ctx.fillText(opts.text, x, y);
    ctx.restore();
  }
};

function tickText(v){ const s=String(v); return tickLabels.includes(s) ? s : ''; }
const edgeTick = ctx => (ctx.tick && Math.abs(ctx.tick.value) >= 3) ? 'rgba(0,0,0,0)' : '#000';

for (let r=0;r<4;r++) for (let c=0;c<3;c++){
  const idx=r*3+c;
  const wrap=document.createElement('div'); wrap.className='panel';
  const W = YW+AREA_W+PADR, H = PADTOP+AREA_H+XH;
  wrap.style.left=colLeft[c]+'px'; wrap.style.top=rowTop[r]+'px';
  wrap.style.width=W+'px'; wrap.style.height=H+'px';
  const cv=document.createElement('canvas');
  cv.style.width=W+'px'; cv.style.height=H+'px';
  wrap.appendChild(cv); fig.appendChild(wrap);
  new Chart(cv,{
    type:'scatter',
    data:{datasets:[
      {label:'fit', data:fits[idx].map(([x,y])=>({x,y})), showLine:true, borderColor:'#111', borderWidth:lineW[idx], borderCapStyle:'butt', pointRadius:0, order:0},
      {label:'points', data:points[idx].map(([x,y])=>({x,y})), backgroundColor:'#3f3f3f', borderWidth:0, pointRadius:2.3, order:1}
    ]},
    options:{
      responsive:false, animation:false, devicePixelRatio:2,
      layout:{padding:{top:PADTOP,left:0,right:PADR,bottom:0}},
      plugins:{legend:{display:false}, tooltip:{enabled:false}, r2label:{text:r2Suffix[idx]}},
      scales:{
        x:{type:'linear', position:'bottom', min:axisMin, max:axisMax,
          ticks:{stepSize:1, autoSkip:false, maxRotation:0, padding:8, color:'#111', font:{family:FONT,size:17}, callback:tickText},
          grid:{drawOnChartArea:false, drawTicks:true, tickLength:-4, tickWidth:1.3, tickColor:edgeTick},
          border:{display:true, color:'#000', width:2},
          title:{display:true, text:measures[r], color:'#111', font:{family:FONT,size:23,weight:'bold'}, padding:{top:0,bottom:titlePadBottom[r]}},
          afterFit:s=>{s.height=XH; s.paddingLeft=0; s.paddingRight=0;}
        },
        y:{type:'linear', position:'left', min:axisMin, max:axisMax,
          ticks:{stepSize:1, autoSkip:false, padding:9, color:'#111', font:{family:FONT,size:17}, callback:tickText},
          grid:{drawOnChartArea:false, drawTicks:true, tickLength:-4, tickWidth:1.3, tickColor:edgeTick},
          border:{display:true, color:'#000', width:2},
          title:{display:c===0, text:yTitle, color:'#111', font:{family:FONT,size:22,weight:'bold'}, padding:{top:3.3,bottom:0}},
          afterFit:s=>{s.width=YW; s.paddingTop=0; s.paddingBottom=0;}
        }
      }
    },
    plugins:[r2Plugin]
  });
}
</script></body></html>
